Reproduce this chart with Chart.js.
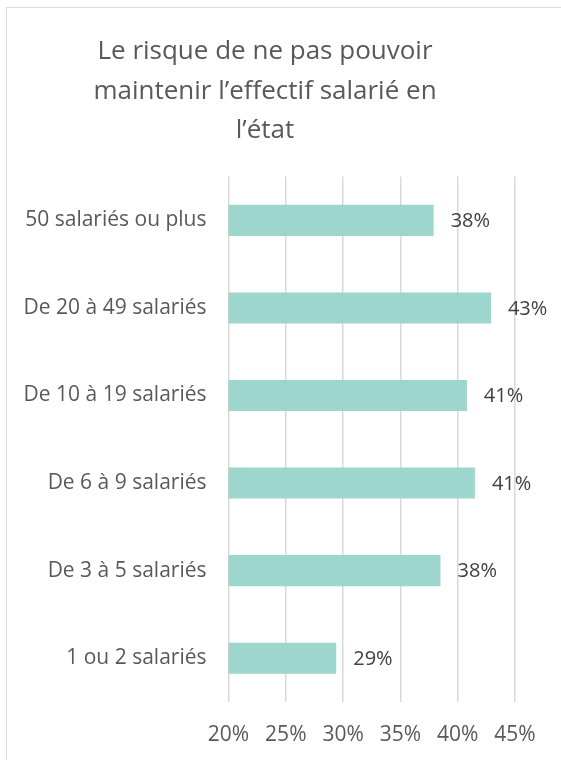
<!DOCTYPE html>
<html>
<head>
<meta charset="utf-8">
<script src="https://cdn.jsdelivr.net/npm/chart.js@4"></script>
<style>
    html, body { margin: 0; padding: 0; background: #fff; }
    #wrap { position: relative; width: 561px; height: 760px; }
    #frame { position: absolute; left: 6px; top: 7px; right: -2px; bottom: -2px; border-left: 1px solid #d9d9d9; border-top: 1px solid #d9d9d9; }
    #chart { position: absolute; left: 0; top: 0; }
</style>
</head>
<body>
<div id="wrap">
    <div id="frame"></div>
    <canvas id="chart" width="561" height="760"></canvas>
</div>
<script>
const categories = ['50 salariés ou plus', 'De 20 à 49 salariés', 'De 10 à 19 salariés', 'De 6 à 9 salariés', 'De 3 à 5 salariés', '1 ou 2 salariés']
const values = [37.9, 42.9, 40.8, 41.5, 38.5, 29.4] // en %
const valueLabels = ['38%', '43%', '41%', '41%', '38%', '29%']
const titleLines = ['Le risque de ne pas pouvoir', 'maintenir l’effectif salarié en', 'l’état']

const fontFamily = '"Open Sans", sans-serif'

// etiquettes de valeur au bout des barres
const valueLabelPlugin = {
    id: 'valueLabels',
    afterDatasetsDraw(chart) {
        const ctx = chart.ctx
        const meta = chart.getDatasetMeta(0)
        ctx.save()
        ctx.font = '20px ' + fontFamily
        ctx.fillStyle = '#404040'
        ctx.textAlign = 'left'
        ctx.textBaseline = 'middle'
        meta.data.forEach((bar, i) => {
            ctx.fillText(valueLabels[i], bar.x + 17, bar.y + 1)
        })
        ctx.restore()
    }
}

const chart = new Chart(document.getElementById('chart'), {
    type: 'bar',
    data: {
        labels: categories,
        datasets: [{
            data: values,
            backgroundColor: '#9DD6CD',
            borderWidth: 0,
            barPercentage: 0.355,
            categoryPercentage: 1
        }]
    },
    options: {
        indexAxis: 'y',
        responsive: false,
        animation: false,
        layout: { padding: { left: 15, right: 46, top: 0, bottom: 0 } },
        plugins: {
            legend: { display: false },
            tooltip: { enabled: false },
            title: {
                display: true,
                text: titleLines,
                color: '#595959',
                font: { family: fontFamily, size: 26, weight: 'normal', lineHeight: 1.52 },
                padding: { top: 32, bottom: 26 }
            }
        },
        scales: {
            x: {
                min: 20,
                max: 45,
                ticks: {
                    stepSize: 5,
                    padding: 20,
                    color: '#595959',
                    font: { family: fontFamily, size: 21 },
                    callback: v => v + '%'
                },
                grid: { color: '#d9d9d9', lineWidth: 1.5, drawTicks: false },
                border: { display: false },
                afterFit: scale => { scale.height = 58 }
            },
            y: {
                ticks: {
                    padding: 22,
                    color: '#595959',
                    font: { family: fontFamily, size: 21 }
                },
                grid: { display: false, drawTicks: false },
                border: { display: false },
                afterFit: scale => { scale.width = 213.5 }
            }
        }
    },
    plugins: [valueLabelPlugin]
})
</script>
</body>
</html>
